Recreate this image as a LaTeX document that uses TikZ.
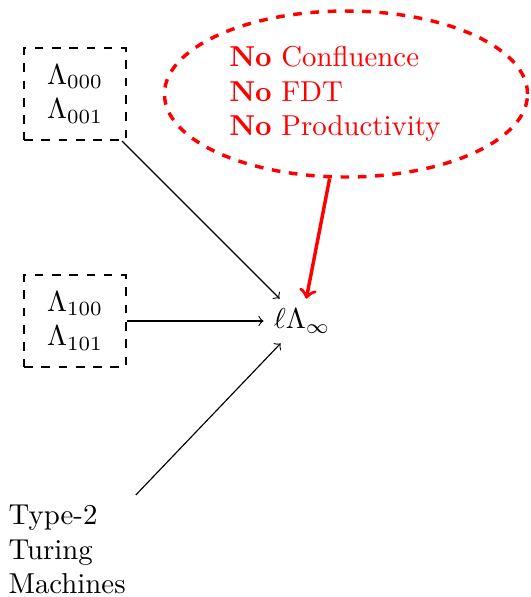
\documentclass[tikz,border=0pt]{standalone}
\usetikzlibrary{shapes.geometric}
\begin{document}
\begin{tikzpicture}[x=0.347pt,y=-0.347pt,
  dbox/.style={draw,thick,dashed,align=center,minimum width=35.4pt,minimum height=31.9pt,inner sep=0pt},
  link/.style={->},
  warn/.style={draw=red,very thick,dashed,ellipse,text=red,text width=81pt,align=left,
    minimum width=126pt,minimum height=57.6pt,inner sep=0pt},
  warnlink/.style={->,red,very thick}]
\useasboundingbox (0,0) rectangle (531,597);
% calculi
\node[dbox] (b1) at (75,94) {$\Lambda_{000}$\\$\Lambda_{001}$};
\node[dbox] (b2) at (75,321) {$\Lambda_{100}$\\$\Lambda_{101}$};
\node (t) at (302,321) {$\ell\Lambda_\infty$};
\node[align=left,anchor=north west] (tm) at (-1.6,495) {Type-2\\Turing\\Machines};
% missing properties
\node[warn] (w) at (346,94) {\textbf{No} Confluence\\\textbf{No} FDT\\\textbf{No} Productivity};
% embeddings
\draw[link] (b1) -- (t);
\draw[link] (b2) -- (t);
\draw[link] (tm.north east) -- (t);
\draw[warnlink] (w) -- (t);
\end{tikzpicture}
\end{document}
